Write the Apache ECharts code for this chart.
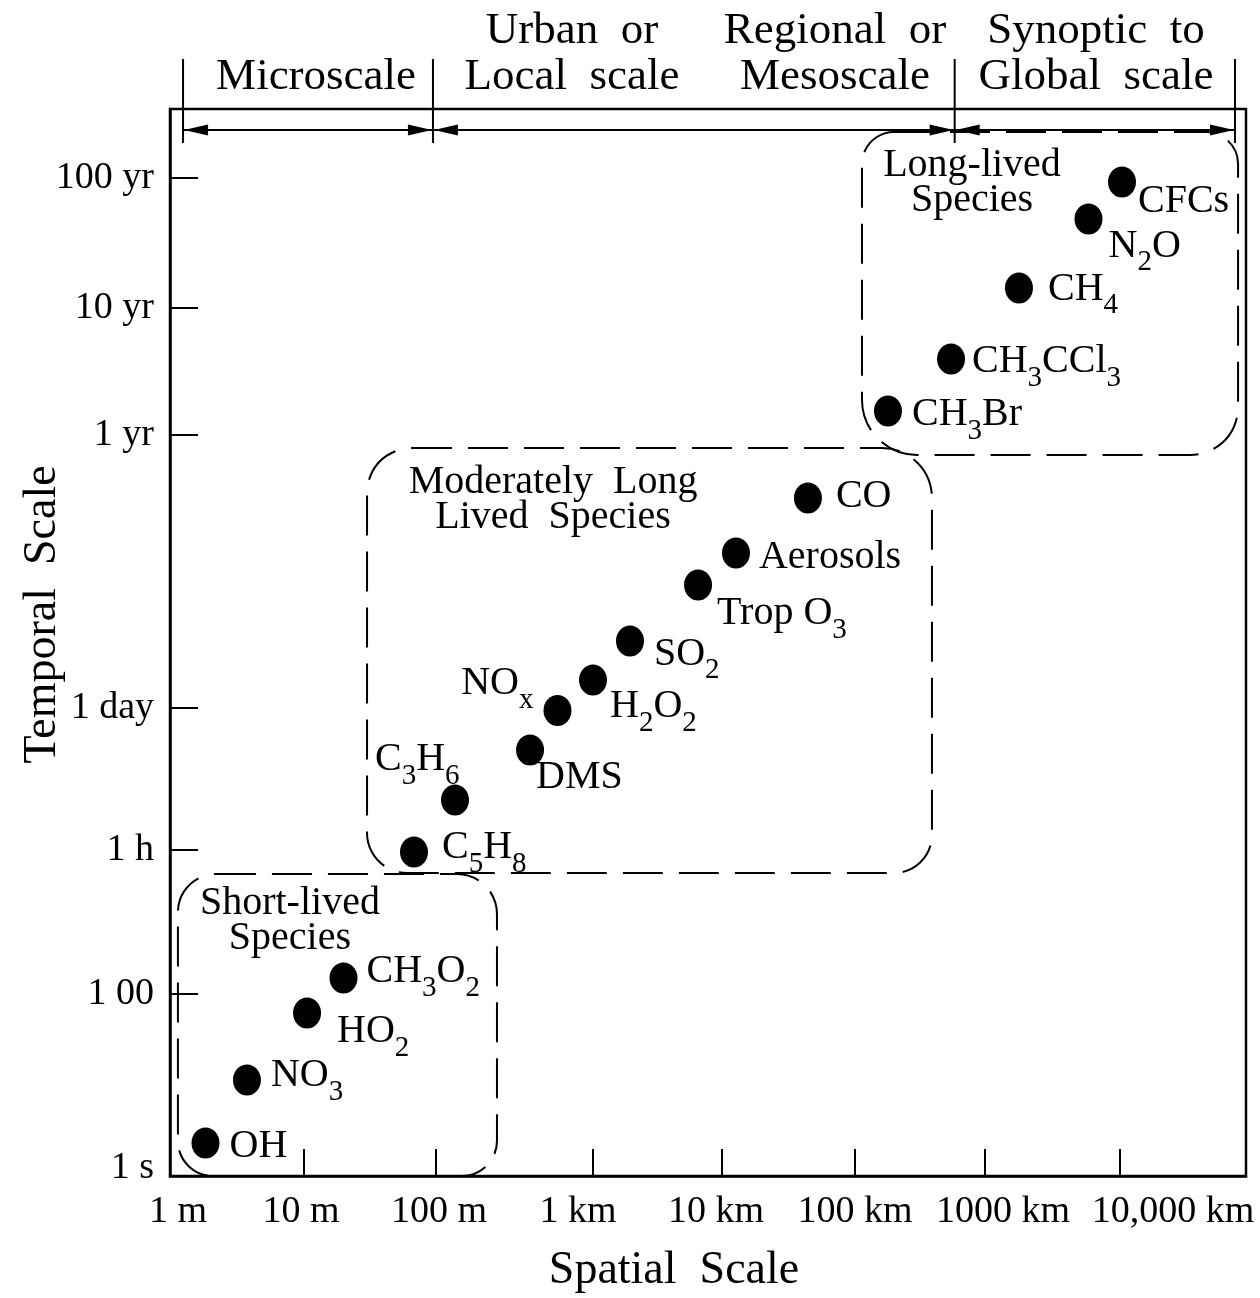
<!DOCTYPE html>
<html><head><meta charset="utf-8">
<script src="https://cdn.jsdelivr.net/npm/echarts@6.0.0/dist/echarts.min.js"></script>
<style>html,body{margin:0;padding:0;background:#fff}#c{width:1260px;height:1298px}</style>
</head><body><div id="c"></div>
<script>
// ---------------- DATA ----------------
// Axis units are positions as drawn in the figure:
// x = spatial scale, ~1 unit per decade starting at 1 m; y = temporal scale position (schematic, non-uniform).
const species   = ['CFCs','N2O','CH4','CH3CCl3','CH3Br','CO','Aerosols','Trop O3','SO2','H2O2','NOx','DMS','C3H6','C5H8','CH3O2','HO2','NO3','OH'];
const spatialX  = [7.078,6.829,6.312,5.807,5.338,4.743,4.208,3.926,3.420,3.145,2.881,2.677,2.119,1.814,1.290,1.019,0.572,0.264];
const temporalY = [9.316,8.969,8.322,7.657,7.170,6.354,5.839,5.539,5.014,4.649,4.363,3.993,3.524,3.037,1.856,1.528,0.900,0.309];

const xTickLabels = ['1 m','10 m','100 m','1 km','10 km','100 km','1000 km','10,000 km'];
const xTickMarks  = [0.993,1.975,3.144,4.104,5.090,6.056,7.061];          // tick marks (10 m … 10,000 km)
const xLabelAt    = [0.059,0.974,2.000,3.033,4.059,5.093,6.193,7.457];    // where each tick label sits
const yTickLabels = ['1 s','1 00','1 h','1 day','1 yr','10 yr','100 yr'];
const yTickAt     = [0.075,1.706,3.055,4.386,6.945,8.135,9.353];
const yTickMarks  = [1.706,3.055,4.386,6.945,8.135,9.353];

const groupNames = ['Long-lived\nSpecies','Moderately  Long\nLived  Species','Short-lived\nSpecies'];
const groupXMin  = [5.145,1.465,0.059];
const groupXMax  = [7.941,5.665,2.431];
const groupYMin  = [6.757,2.840,0.000];
const groupYMax  = [9.784,6.823,2.830];

const scaleNames   = ['Microscale','Urban  or\nLocal  scale','Regional  or\nMesoscale','Synoptic  to\nGlobal  scale'];
const scaleCenters = [1.086,2.989,4.944,6.885];
const scaleBounds  = [0.097,1.955,5.834,7.918];

// ---------------- STYLE ----------------
const X_MAX = 8, Y_MAX = 10;
const FONT = '"Liberation Serif", "Times New Roman", serif';
const labelOffsets = { // [dx, dy, align] of each label relative to its dot, px
  'CFCs':[16,25],'N2O':[20,32],'CH4':[29,6],'CH3CCl3':[21,8],'CH3Br':[24,9],
  'CO':[28,3],'Aerosols':[23,10],'Trop O3':[19,34],'SO2':[24,18],'H2O2':[17,32],
  'NOx':[-24,-22,'right'],'DMS':[6,33],'C3H6':[-80,-35],'C5H8':[28,1],
  'CH3O2':[23,-1],'HO2':[30,24],'NO3':[24,1],'OH':[24,8]
};
const boxRadii = [[32,32,48,55],[45,50,38,40],[38,40,35,35]];
const titleOffsets = [[110,51],[186,52],[112,47]];

function toRich(name){
  if (name === 'NOx') return '{m|NO}{s|x}';
  return name.replace(/(\d+)|([^\d]+)/g, (m, d, t) => d ? '{s|' + d + '}' : '{m|' + t + '}');
}

const chart = echarts.init(document.getElementById('c'), null, {renderer:'canvas'});

const scatterData = species.map((n, i) => {
  const o = labelOffsets[n];
  return { name:n, value:[spatialX[i], temporalY[i]],
           label:{ align:o[2] || 'left', offset:[o[0], o[1]] } };
});

const boxData = groupNames.map((n, i) => [groupXMin[i], groupXMax[i], groupYMin[i], groupYMax[i], i]);

function renderBox(params, api){
  const i = api.value(4);
  const p0 = api.coord([api.value(0), api.value(3)]);
  const p1 = api.coord([api.value(1), api.value(2)]);
  return { type:'group', children:[
    { type:'rect', shape:{ x:p0[0], y:p0[1], width:p1[0]-p0[0], height:p1[1]-p0[1], r:boxRadii[i] },
      style:{ fill:'none', stroke:'#000', lineWidth:2, lineDash:[40,16] } },
    { type:'text', x:p0[0]+titleOffsets[i][0], y:p0[1]+titleOffsets[i][1],
      style:{ text:groupNames[i], fill:'#000', fontSize:40, fontFamily:FONT, align:'center', verticalAlign:'middle', lineHeight:35 } }
  ]};
}

function renderHeader(params, api){
  const top = api.coord([0, Y_MAX])[1];
  const children = [];
  const xs = scaleBounds.map(b => api.coord([b, Y_MAX])[0]);
  xs.forEach(x => children.push({ type:'line', shape:{x1:x, y1:top-50, x2:x, y2:top+34}, style:{stroke:'#000', lineWidth:2} }));
  const ay = top + 21, AL = 25, AW = 5.5;
  for (let k = 0; k < xs.length - 1; k++){
    const a = xs[k], b = xs[k+1];
    children.push({ type:'line', shape:{x1:a, y1:ay, x2:b, y2:ay}, style:{stroke:'#000', lineWidth:2} });
    children.push({ type:'polygon', shape:{points:[[a+1,ay],[a+AL,ay-AW],[a+AL,ay+AW]]}, style:{fill:'#000'} });
    children.push({ type:'polygon', shape:{points:[[b-1,ay],[b-AL,ay-AW],[b-AL,ay+AW]]}, style:{fill:'#000'} });
  }
  scaleNames.forEach((n, k) => {
    const x = api.coord([scaleCenters[k], Y_MAX])[0];
    const two = n.indexOf('\n') >= 0;
    children.push({ type:'text', x:x, y: two ? top-55 : top-32,
      style:{ text:n, fill:'#000', fontSize:45, fontFamily:FONT, align:'center', verticalAlign:'middle', lineHeight:46 } });
  });
  return { type:'group', children };
}

function nearestLabel(values, labels, v){
  let best = 0;
  for (let i = 1; i < values.length; i++) if (Math.abs(values[i]-v) < Math.abs(values[best]-v)) best = i;
  return labels[best];
}

chart.setOption({
  animation:false,
  backgroundColor:'#fff',
  grid:{ left:170, top:109, width:1076, height:1067, outerBoundsMode:'none', containLabel:false,
         show:true, borderColor:'#000', borderWidth:2.5, backgroundColor:'transparent' },
  xAxis:{
    type:'value', min:0, max:X_MAX,
    name:'Spatial  Scale', nameLocation:'middle', nameGap:72, nameMoveOverlap:false,
    nameTextStyle:{ fontSize:46, fontFamily:FONT, color:'#000', padding:[0,68,0,0] },
    axisLine:{ show:true, lineStyle:{ color:'#000', width:2.5 } },
    axisTick:{ show:true, inside:true, length:27, customValues:xTickMarks, lineStyle:{ color:'#000', width:2 } },
    axisLabel:{ customValues:xLabelAt, margin:17, fontSize:38, fontFamily:FONT, color:'#000',
      formatter:v => nearestLabel(xLabelAt, xTickLabels, v) },
    splitLine:{ show:false }
  },
  yAxis:{
    type:'value', min:0, max:Y_MAX,
    name:'Temporal  Scale', nameLocation:'middle', nameGap:104, nameMoveOverlap:false,
    nameTextStyle:{ fontSize:46, fontFamily:FONT, color:'#000', padding:[0,0,0,56] },
    axisLine:{ show:true, lineStyle:{ color:'#000', width:2.5 } },
    axisTick:{ show:true, inside:true, length:28, customValues:yTickMarks, lineStyle:{ color:'#000', width:2 } },
    axisLabel:{ customValues:yTickAt, margin:16, fontSize:38, fontFamily:FONT, color:'#000',
      formatter:v => nearestLabel(yTickAt, yTickLabels, v) },
    splitLine:{ show:false }
  },
  series:[
    { type:'custom', name:'groups', coordinateSystem:'cartesian2d', renderItem:renderBox, data:boxData, silent:true, z:1, clip:false },
    { type:'custom', name:'header', coordinateSystem:'cartesian2d', renderItem:renderHeader, data:[[0,0]], silent:true, z:1, clip:false },
    { type:'scatter', name:'species', data:scatterData, symbol:'circle', symbolSize:[28,31], z:3, silent:true,
      itemStyle:{ color:'#000', opacity:1 },
      label:{ show:true, position:[14,15.5], verticalAlign:'middle', color:'#000', opacity:1,
        formatter:p => toRich(p.name),
        rich:{
          m:{ fontSize:40, fontFamily:FONT, color:'#000', lineHeight:50, verticalAlign:'top' },
          s:{ fontSize:29, fontFamily:FONT, color:'#000', lineHeight:29, padding:[22,0,0,0], verticalAlign:'top' }
        } } }
  ]
});
</script></body></html>
